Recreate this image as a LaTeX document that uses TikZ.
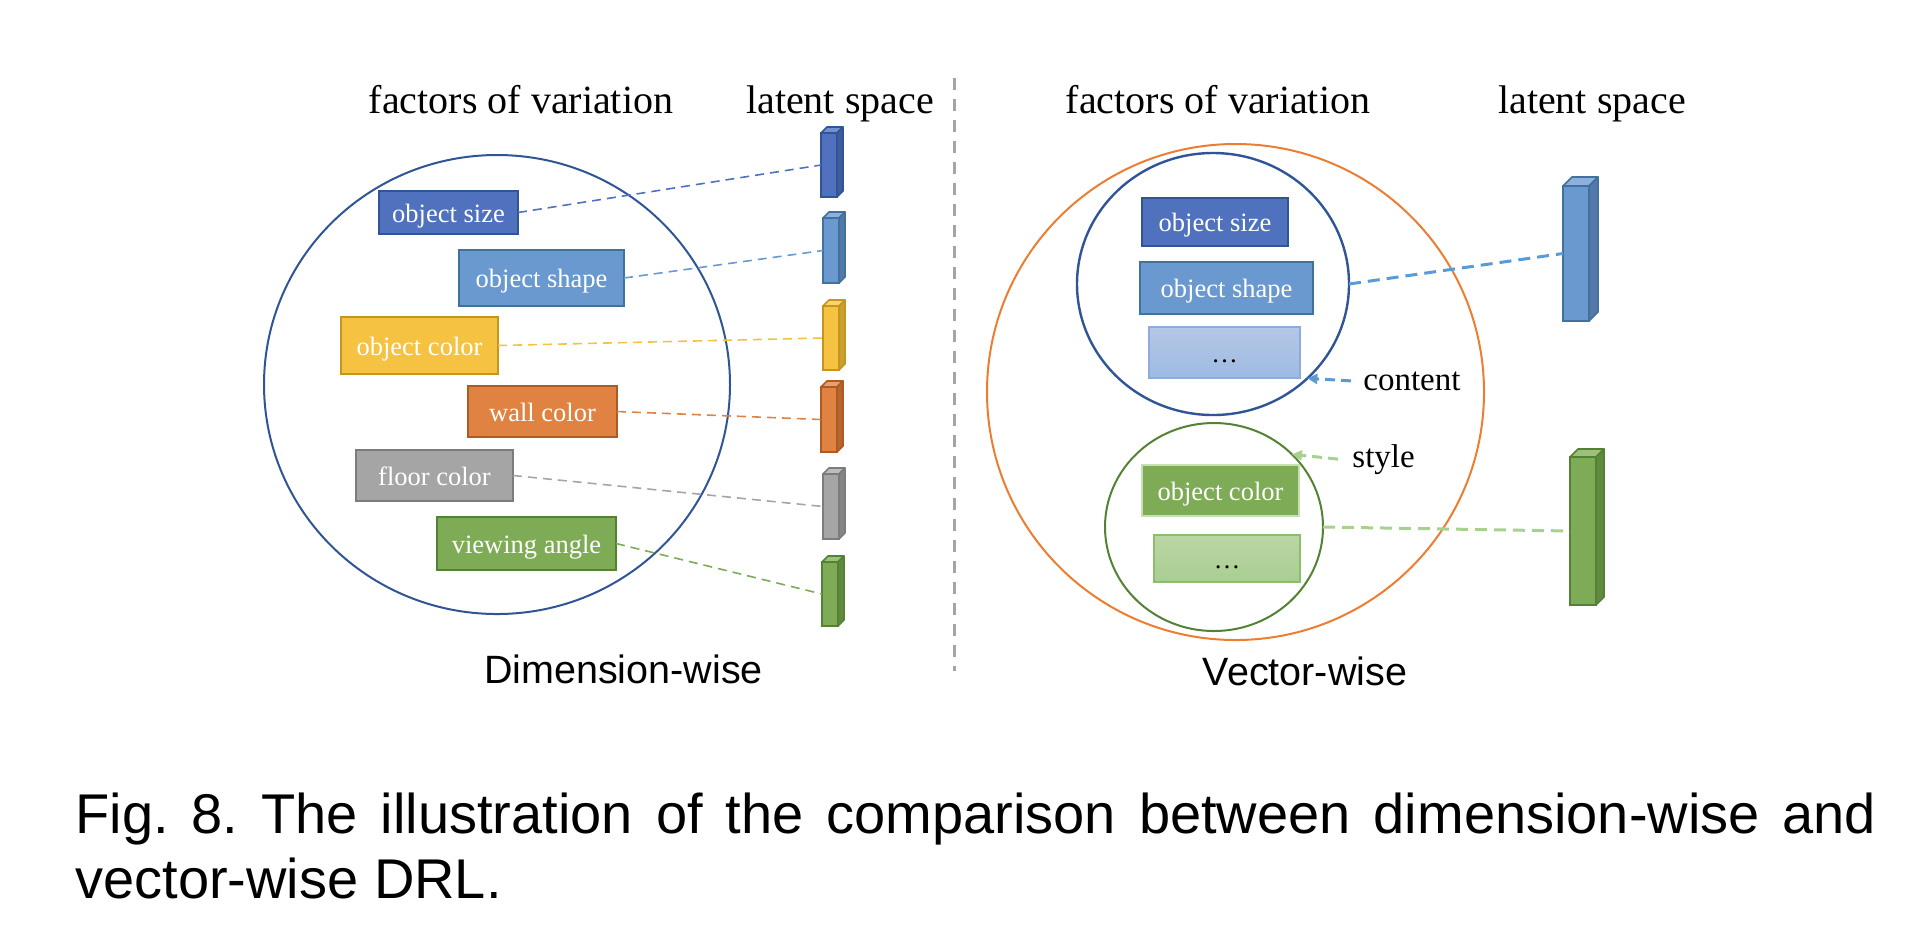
\documentclass[tikz,border=0pt]{standalone}
\usepackage{fontspec}
\setmainfont{Liberation Serif}
\newfontfamily\sansfam{Liberation Sans}
\usetikzlibrary{shapes.geometric,arrows.meta}

% fills and edges of the factor boxes and latent bars
\definecolor{sizeF}{HTML}{4F71BE}\definecolor{sizeE}{HTML}{2F5597}
\definecolor{sizeS}{HTML}{3E5C9E}\definecolor{sizeT}{HTML}{7390CF}
\definecolor{shapeF}{HTML}{6A99D0}\definecolor{shapeE}{HTML}{41719C}
\definecolor{shapeS}{HTML}{5479A8}\definecolor{shapeT}{HTML}{8DB1DC}
\definecolor{colorF}{HTML}{F5C242}\definecolor{colorE}{HTML}{C4961E}
\definecolor{colorS}{HTML}{C9A032}\definecolor{colorT}{HTML}{F8D36E}
\definecolor{wallF}{HTML}{E08342}\definecolor{wallE}{HTML}{AE5A21}
\definecolor{wallS}{HTML}{B5662F}\definecolor{wallT}{HTML}{E9A070}
\definecolor{floorF}{HTML}{A5A5A5}\definecolor{floorE}{HTML}{7C7C7C}
\definecolor{floorS}{HTML}{858585}\definecolor{floorT}{HTML}{BDBDBD}
\definecolor{viewF}{HTML}{7EAB55}\definecolor{viewE}{HTML}{548235}
\definecolor{viewS}{HTML}{618A3E}\definecolor{viewT}{HTML}{9DC07D}
\definecolor{ringBlue}{HTML}{2F5597}
\definecolor{ringOrange}{HTML}{ED7D31}
\definecolor{ringGreen}{HTML}{548235}
\definecolor{linkBlue}{HTML}{5B9BD5}
\definecolor{linkGreen}{HTML}{A9D18E}
\definecolor{sepGrey}{HTML}{A5A5A5}
\definecolor{dotsBlueTop}{HTML}{B4C7E7}\definecolor{dotsBlueBot}{HTML}{9DBBE1}
\definecolor{dotsBlueE}{HTML}{8FAADC}
\definecolor{dotsGreenTop}{HTML}{BAD6A5}\definecolor{dotsGreenBot}{HTML}{A9CE91}
\definecolor{dotsGreenE}{HTML}{8CBE6E}
\definecolor{softGreenE}{HTML}{C5E0B4}

% a latent code drawn as a small prism: name, x, y, width, height, depth, colour prefix
\newcommand\latentbar[7]{%
  \node[barface, fill=#7F, draw=#7E, minimum width=#4, minimum height=#5] (#1) at (#2,#3) {};
  \filldraw[fill=#7T, draw=#7E, line width=0.8pt, line join=round]
    (#1.north west) -- ++(#6,#6) -- ++(#4,0pt) -- (#1.north east) -- cycle;
  \filldraw[fill=#7S, draw=#7E, line width=0.8pt, line join=round]
    (#1.north east) -- ++(#6,#6) -- ++(0pt,-#5) -- (#1.south east) -- cycle;
}

\begin{document}
\frenchspacing
\begin{tikzpicture}[x=0.5pt,y=-0.5pt,
  factor/.style={draw, line width=1pt, outer sep=0pt, inner sep=0pt, text=white,
    text height=9.5pt, text depth=0pt,
    font=\fontsize{13.25pt}{15pt}\selectfont},
  barface/.style={draw, line width=0.8pt, outer sep=0pt, inner sep=0pt},
  ring/.style={ellipse, draw, outer sep=0pt, inner sep=0pt},
  head/.style={font=\fontsize{20pt}{24pt}\selectfont, anchor=base, inner sep=0pt},
  panel/.style={font=\sansfam\fontsize{19.75pt}{24pt}\selectfont, anchor=base, inner sep=0pt},
  tag/.style={font=\fontsize{16.5pt}{20pt}\selectfont, anchor=base west, inner ysep=0pt},
  tie/.style={line width=0.8pt, dash pattern=on 4.5pt off 3pt},
  tiethick/.style={line width=1.5pt, dash pattern=on 6pt off 3.5pt},
  pointer/.style={line width=1.5pt, dash pattern=on 5pt off 3pt,
    -{Triangle[length=5pt,width=5pt]}},
  caption/.style={font=\sansfam\fontsize{28pt}{32.5pt}\selectfont, anchor=base west, inner sep=0pt}
]
\useasboundingbox (0,0) rectangle (1920,950);

% ---------- headings ----------
\node[head] (hfacL) at (521,113) {factors of variation};
\node[head] (hlatL) at (840,113) {latent space};
\node[head] (hfacR) at (1218,113) {factors of variation};
\node[head] (hlatR) at (1592,113) {latent space};

% ---------- separator ----------
\coordinate (sepTop) at (954,78);
\coordinate (sepBot) at (954,671);
\draw[sepGrey, line width=1.5pt, dash pattern=on 6pt off 4.5pt] (sepTop) -- (sepBot);

% ---------- dimension-wise ----------
\node[ring, draw=ringBlue, line width=1pt, minimum width=233pt, minimum height=229.5pt] (dimring) at (497,384.5) {};

\latentbar{b1}{829}{165}{8pt}{32pt}{3pt}{size}
\latentbar{b2}{831}{250.5}{8pt}{32.5pt}{3pt}{shape}
\latentbar{b3}{831}{338}{8pt}{32pt}{3pt}{color}
\latentbar{b4}{829}{419.5}{8pt}{32.5pt}{3pt}{wall}
\latentbar{b5}{831}{506.5}{8pt}{32.5pt}{3pt}{floor}
\latentbar{b6}{830}{594}{8pt}{32pt}{3pt}{view}

\node[factor, fill=sizeF, draw=sizeE, minimum width=69.5pt, minimum height=21.5pt] (sizeL) at (448.5,212.5) {object size};
\node[factor, fill=shapeF, draw=shapeE, minimum width=82.5pt, minimum height=28pt] (shapeL) at (541.5,278) {object shape};
\node[factor, fill=colorF, draw=colorE, minimum width=78.5pt, minimum height=28.5pt] (colorL) at (419.5,345.5) {object color};
\node[factor, fill=wallF, draw=wallE, minimum width=74.5pt, minimum height=25.5pt] (wallL) at (542.5,411.5) {wall color};
\node[factor, fill=floorF, draw=floorE, minimum width=78.5pt, minimum height=25.5pt] (floorL) at (434.5,475.5) {floor color};
\node[factor, fill=viewF, draw=viewE, minimum width=89.5pt, minimum height=26.5pt] (viewL) at (526.5,543.5) {viewing angle};

\draw[tie, sizeF] (sizeL.east) -- (b1.west);
\draw[tie, shapeF] (shapeL.east) -- (b2.west);
\draw[tie, colorF] (colorL.east) -- (b3.west);
\draw[tie, wallF] (wallL.east) -- (b4.west);
\draw[tie, floorF] (floorL.east) -- (b5.west);
\draw[tie, viewF] (viewL.east) -- (b6.west);

\node[panel] (dimlabel) at (623.5,683) {Dimension-wise};

% ---------- vector-wise ----------
\node[ring, draw=ringOrange, line width=1pt, minimum width=248.5pt, minimum height=248pt] (vecring) at (1235.5,392) {};
\node[ring, draw=ringBlue, line width=1.2pt, minimum width=136pt, minimum height=131pt] (cont) at (1213,284) {};
\node[ring, draw=ringGreen, line width=1pt, minimum width=109pt, minimum height=104pt] (sty) at (1214,527) {};

\node[factor, fill=sizeF, draw=sizeE, minimum width=73pt, minimum height=24pt] (sizeR) at (1215,222) {object size};
\node[factor, fill=shapeF, draw=shapeE, minimum width=86.5pt, minimum height=26pt] (shapeR) at (1226.5,288) {object shape};
\node[factor, top color=dotsBlueTop, bottom color=dotsBlueBot, draw=dotsBlueE, text=black,
  minimum width=75.5pt, minimum height=25.5pt] (moreR1) at (1224.5,352.5) {…};
\node[factor, fill=viewF, draw=softGreenE, minimum width=78.5pt, minimum height=25.5pt] (colorR) at (1220.5,490.5) {object color};
\node[factor, top color=dotsGreenTop, bottom color=dotsGreenBot, draw=dotsGreenE, text=black,
  minimum width=73pt, minimum height=23.5pt] (moreR2) at (1227,558.5) {…};

\latentbar{rb1}{1576}{253.5}{13pt}{67.5pt}{4.5pt}{shape}
\latentbar{rb2}{1583}{531}{13pt}{74pt}{4pt}{view}

\draw[tiethick, linkBlue] (cont.east) -- (rb1.west);
\draw[tiethick, linkGreen] (sty.east) -- (rb2.west);

\node[tag, inner xsep=6pt] (clabel) at (1351,390) {content};
\node[tag, inner xsep=7pt] (slabel) at (1338,467) {style};
\draw[pointer, linkBlue] (clabel.west) -- (cont.-45);
\draw[pointer, linkGreen] (slabel.west) -- (sty.43);

\node[panel] (veclabel) at (1305,685) {Vector-wise};

% ---------- caption ----------
\node[caption] (cap1) at (75,833)
  {\makebox[900.5pt][s]{Fig. 8. The illustration of the comparison between dimension-wise and}};
\node[caption] (cap2) at (75,898) {vector-wise DRL.};
\end{tikzpicture}
\end{document}
